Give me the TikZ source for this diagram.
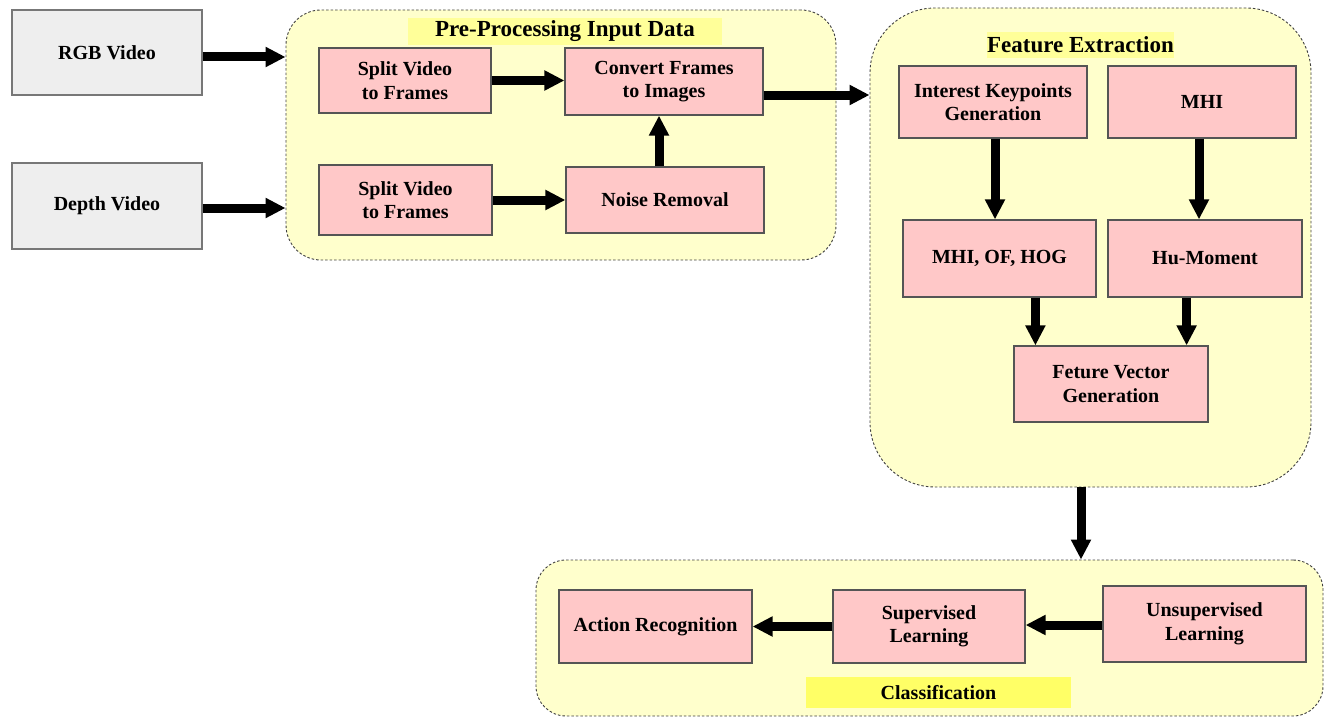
\documentclass[tikz,border=0pt]{standalone}
\usepackage{fontspec}
\setmainfont{Liberation Serif}
\usetikzlibrary{arrows.meta}
\definecolor{boxpink}{HTML}{FFC8C8}
\definecolor{boxgray}{HTML}{EEEEEE}
\definecolor{grpyellow}{HTML}{FFFFCC}
\definecolor{hiyellow}{HTML}{FFFF99}
\definecolor{hiyellowB}{HTML}{FFFF66}
\definecolor{edge}{HTML}{555555}
\tikzset{
  procbox/.style={draw=edge, line width=1.2pt, fill=boxpink, align=center,
    font=\fontsize{20}{23.5}\selectfont\bfseries, inner sep=2pt},
  inbox/.style={procbox, fill=boxgray, draw=edge!80},
  group/.style={draw=black!75, line width=0.9pt, dash pattern=on 2.5pt off 2pt,
    fill=grpyellow, inner sep=0pt},
  titlebar/.style={fill=hiyellow, inner sep=0pt,
    font=\fontsize{23}{26}\selectfont\bfseries},
  arr/.style={line width=9pt, -{Triangle[length=20pt,width=19pt]}},
}
\begin{document}
\begin{tikzpicture}[x=1pt,y=-1pt]
\useasboundingbox (0,0) rectangle (1325,717);

% stage containers
\node[group, rounded corners=35pt, minimum width=550pt, minimum height=250pt] (pre) at (561,135) {};
\node[group, rounded corners=65pt, minimum width=441pt, minimum height=479pt] (fe) at (1090.5,247.5) {};
\node[group, rounded corners=30pt, minimum width=787pt, minimum height=156pt] (cls) at (929.5,638) {};

% stage titles
\node[titlebar, minimum width=314pt, minimum height=27pt] (preT) at (565,31.5) {Pre-Processing Input Data};
\node[titlebar, minimum width=175pt, minimum height=26pt] (feT) at (1080.5,45) {Feature Extraction};
\node[titlebar, fill=hiyellowB, minimum width=265pt, minimum height=31pt,
  font=\fontsize{20}{23}\selectfont\bfseries] (clsT) at (938.5,692.5) {Classification};

% inputs
\node[inbox, minimum width=190pt, minimum height=85pt] (rgb) at (107,52.5) {RGB Video};
\node[inbox, minimum width=190pt, minimum height=86pt] (depth) at (107,206) {Depth Video};

% pre-processing
\node[procbox, minimum width=172pt, minimum height=65pt] (split1) at (405,80.5) {Split Video\\to Frames};
\node[procbox, minimum width=198pt, minimum height=67pt] (convert) at (664,81.5) {Convert Frames\\to Images};
\node[procbox, minimum width=173pt, minimum height=70pt] (split2) at (405.5,200) {Split Video\\to Frames};
\node[procbox, minimum width=198pt, minimum height=66pt] (noise) at (665,200) {Noise Removal};

% feature extraction
\node[procbox, minimum width=188pt, minimum height=72pt] (ikg) at (993,102) {Interest Keypoints\\Generation};
\node[procbox, minimum width=188pt, minimum height=72pt] (mhi) at (1202,102) {MHI};
\node[procbox, minimum width=193pt, minimum height=77pt] (mog) at (999.5,258.5) {MHI, OF, HOG};
\node[procbox, minimum width=194pt, minimum height=77pt] (hu) at (1205,258.5) {Hu-Moment};
\node[procbox, minimum width=194pt, minimum height=76pt] (fvg) at (1111,384) {Feture Vector\\Generation};

% classification
\node[procbox, minimum width=193pt, minimum height=73pt] (act) at (655.5,626.5) {Action Recognition};
\node[procbox, minimum width=192pt, minimum height=73pt] (sup) at (929,626.5) {Supervised\\Learning};
\node[procbox, minimum width=203pt, minimum height=76pt] (uns) at (1204.5,624) {Unsupervised\\Learning};

% connectors
\draw[arr] ([yshift=-4.5pt]rgb.east) -- ([yshift=-4.5pt]rgb.east -| pre.west);
\draw[arr] ([yshift=-2pt]depth.east) -- ([yshift=-2pt]depth.east -| pre.west);
\draw[arr] (split1.east) -- (split1.east -| convert.west);
\draw[arr] (split2.east) -- (split2.east -| noise.west);
\draw[arr] ([xshift=-6pt]noise.north) -- ([xshift=-6pt]noise.north |- convert.south);
\draw[arr] ([yshift=-13.5pt]convert.east) -- ([yshift=-13.5pt]convert.east -| fe.west);
\draw[arr] ([xshift=2pt]ikg.south) -- ([xshift=2pt]ikg.south |- mog.north);
\draw[arr] ([xshift=-3pt]mhi.south) -- ([xshift=-3pt]mhi.south |- hu.north);
\draw[arr] ([xshift=22pt]fvg.north west |- mog.south) -- ([xshift=22pt]fvg.north west);
\draw[arr] ([xshift=-22pt]fvg.north east |- hu.south) -- ([xshift=-22pt]fvg.north east);
\draw[arr] ([xshift=-9.5pt]fe.south) -- ([xshift=-9.5pt]fe.south |- cls.north);
\draw[arr] (sup.west) -- (sup.west -| act.east);
\draw[arr] ([yshift=-1pt]uns.west) -- ([yshift=-1pt]uns.west -| sup.east);
\end{tikzpicture}
\end{document}
